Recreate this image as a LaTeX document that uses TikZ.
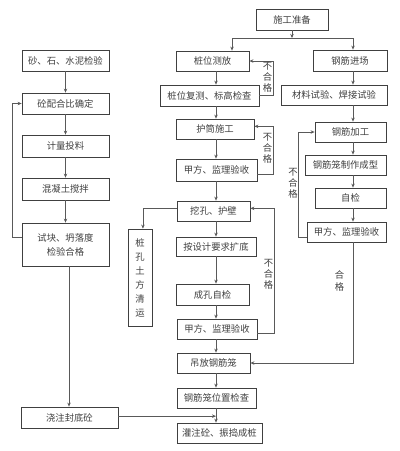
\documentclass[tikz,border=0pt]{standalone}
\usepackage{fontspec}
\setmainfont{Noto Sans CJK SC}
\usetikzlibrary{arrows.meta}
\begin{document}
\begin{tikzpicture}[x=0.75pt,y=-0.75pt,
  box/.style 2 args={draw=black!75, line width=0.6pt, minimum width=#1*0.75pt, minimum height=#2*0.75pt, inner sep=0pt, font=\fontsize{7}{10.5}\selectfont, text=black!75, align=center},
  ln/.style={draw=black!65, line width=0.55pt},
  arr/.style={ln, -{Stealth[length=3pt,width=2.6pt]}},
  vlbl/.style={font=\fontsize{7}{8.3}\selectfont, text=black!75, align=center, inner sep=0pt}
]
\useasboundingbox (0,0) rectangle (400,451);
\fill[white] (0,0) rectangle (400,451);

% top
\node[box={72}{21}] (T) at (292,19.5) {施工准备};

% left column
\node[box={87}{21}] (L1) at (65.5,60.5) {砂、石、水泥检验};
\node[box={87}{21}] (L2) at (65.5,103.5) {砼配合比确定};
\node[box={87}{22}] (L3) at (65.5,146) {计量投料};
\node[box={87}{22}] (L4) at (65.5,189) {混凝土搅拌};
\node[box={87}{43}] (L5) at (65.5,244.5) {试块、坍落度\\检验合格};
\node[box={97}{21}] (L6) at (69.5,417.5) {浇注封底砼};

% middle column
\node[box={73}{20}] (M1) at (212.5,61) {桩位测放};
\node[box={99}{21}] (M2) at (209.5,95.5) {桩位复测、标高检查};
\node[box={78}{20}] (M3) at (215,129) {护筒施工};
\node[box={81}{22}] (M4) at (216.5,170) {甲方、监理验收};
\node[box={73}{20}] (M5) at (213.5,211) {挖孔、护壁};
\node[box={80}{19}] (M6) at (216,246.5) {按设计要求扩底};
\node[box={73}{21}] (M7) at (212.5,294.5) {成孔自检};
\node[box={80}{20}] (M8) at (217,329) {甲方、监理验收};
\node[box={73}{20}] (M9) at (213.5,363) {吊放钢筋笼};
\node[box={79}{20}] (M10) at (216.5,398) {钢筋笼位置检查};
\node[box={85}{20}] (M11) at (219.5,433) {灌注砼、振捣成桩};

% spoil box
\node[box={24}{97}] (S) at (140,277.5) {桩\\孔\\土\\方\\清\\运};

% right column
\node[box={74}{21}] (R1) at (350,60.5) {钢筋进场};
\node[box={106}{20}] (R2) at (334,95) {材料试验、焊接试验};
\node[box={71}{20}] (R3) at (350.5,132) {钢筋加工};
\node[box={81}{20}] (R4) at (345.5,165) {钢筋笼制作成型};
\node[box={71}{20}] (R5) at (350.5,198) {自检};
\node[box={79}{20}] (R6) at (346.5,232) {甲方、监理验收};

% helper coordinates
\coordinate (jl) at (232,38);
\coordinate (jr) at (353,38);
\coordinate (mx) at (216,0);
\coordinate (rx) at (353,0);
\coordinate (lx) at (69,0);
\coordinate (c1) at (273,0);
\coordinate (c3) at (274,0);

% top split
\draw[arr] (T.south) -- (T.south |- jl);
\draw[ln] (jl) -- (jr);
\draw[arr] (jl) -- (jl |- M1.north);
\draw[arr] (jr) -- (jr |- R1.north);

% left chain
\foreach \a/\b in {L1/L2,L2/L3,L3/L4,L4/L5}
  \draw[arr] (\a.south) -- (\b.north);
\draw[arr] (L5.south -| lx) -- (L6.north -| lx);
\draw[arr] ([yshift=5.6pt]L5.west) -- ++(-9,0) |- (L2.west);

% middle chain
\foreach \a/\b in {M1/M2,M2/M3,M3/M4,M4/M5,M5/M6,M6/M7,M7/M8,M8/M9,M9/M10,M10/M11}
  \draw[arr] (\a.south -| mx) -- (\b.north -| mx);

% right chain
\foreach \a/\b in {R1/R2,R2/R3,R3/R4,R4/R5,R5/R6}
  \draw[arr] (\a.south -| rx) -- (\b.north -| rx);

% rejection loops
\draw[arr] (M2.east) -- (M2.east -| c1) |- (M1.east);
\draw[arr] ([yshift=-3pt]M4.east) -- ([yshift=-3pt]M4.east -| c1) |- ([yshift=2pt]M3.east);
\draw[arr] ([yshift=-3pt]M8.east) -- ([yshift=-3pt]M8.east -| c3) |- ([yshift=2pt]M5.east);
\draw[arr] ([yshift=-3.75pt]R6.west) -- ++(-8,0) |- (R3.west);

\node[vlbl] (n1) at (267.5,77) {不\\合\\格};
\node[vlbl] (n2) at (267.5,148) {不\\合\\格};
\node[vlbl] (n3) at (268.5,274) {不\\合\\格};
\node[vlbl] (n4) at (293,183) {不\\合\\格};

% pass line to cage lifting
\draw[arr] (R6.south -| rx) |- (M9.east);
\node[vlbl, font=\fontsize{7}{9}\selectfont] (n5) at (339.5,281) {合\\格};

% spoil removal
\draw[arr] ([yshift=2pt]M5.west) -| ([xshift=2.2pt]S.north);

% bottom seal concrete
\draw[arr] ([yshift=1pt]L6.east) -- ([yshift=1pt]L6.east -| mx);
\end{tikzpicture}
\end{document}
